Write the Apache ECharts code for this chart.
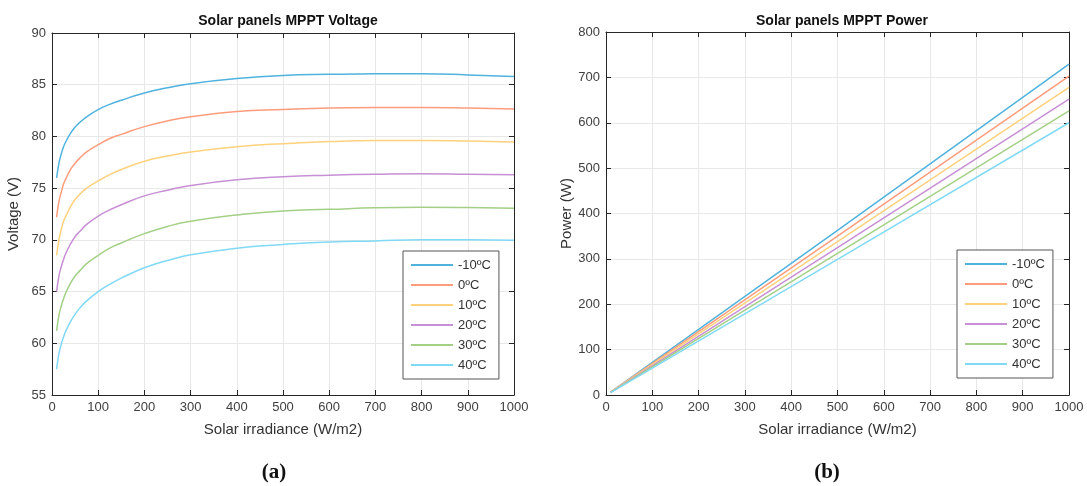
<!DOCTYPE html>
<html>
<head>
<meta charset="utf-8">
<script src="https://cdn.jsdelivr.net/npm/echarts@6/dist/echarts.min.js"></script>
<style>
  html, body { margin: 0; padding: 0; background: #fff; }
  #chart { width: 1087px; height: 486px; }
</style>
</head>
<body>
<div id="chart"></div>
<script>
// temperatures (legend names)
const temps = ["-10ºC", "0ºC", "10ºC", "20ºC", "30ºC", "40ºC"];
const colors = ["#4fb3de", "#ff9c7c", "#ffd17c", "#c78fd4", "#a3d086", "#80d9f5"];

// (a) voltage vs irradiance
const irrV = [10, 15, 20, 25, 30, 40, 50, 60, 75, 100, 125, 150, 200, 250, 300, 400, 500, 600, 700, 800, 900, 1000];
const voltM10 = [76.0, 77.4, 78.3, 79.0, 79.5, 80.3, 80.9, 81.35, 81.9, 82.6, 83.1, 83.5, 84.2, 84.7, 85.1, 85.6, 85.9, 86.0, 86.05, 86.05, 85.95, 85.8];
const volt0 = [72.2, 73.7, 74.6, 75.4, 75.9, 76.8, 77.4, 77.9, 78.5, 79.2, 79.8, 80.2, 80.95, 81.5, 81.9, 82.4, 82.6, 82.75, 82.8, 82.8, 82.75, 82.65];
const volt10 = [68.5, 70.0, 71.0, 71.8, 72.3, 73.2, 73.9, 74.4, 75.0, 75.7, 76.3, 76.8, 77.6, 78.1, 78.5, 79.0, 79.3, 79.5, 79.6, 79.6, 79.55, 79.45];
const volt20 = [65.0, 66.5, 67.4, 68.1, 68.7, 69.6, 70.3, 70.8, 71.5, 72.3, 72.9, 73.4, 74.25, 74.8, 75.25, 75.8, 76.1, 76.25, 76.35, 76.4, 76.35, 76.3];
const volt30 = [61.2, 62.7, 63.6, 64.3, 64.9, 65.8, 66.5, 67.0, 67.7, 68.5, 69.2, 69.7, 70.6, 71.3, 71.8, 72.4, 72.8, 72.95, 73.1, 73.15, 73.12, 73.05];
const volt40 = [57.5, 59.0, 59.9, 60.6, 61.2, 62.1, 62.8, 63.4, 64.1, 65.0, 65.7, 66.3, 67.3, 68.0, 68.55, 69.2, 69.55, 69.8, 69.9, 70.0, 70.0, 69.95];

// (b) power vs irradiance
const irrP = [10, 500, 1000];
const powM10 = [6.5, 363, 729];
const pow0 = [6.3, 350, 703];
const pow10 = [6.1, 338, 678];
const pow20 = [5.9, 325, 652];
const pow30 = [5.7, 312, 626];
const pow40 = [5.4, 299, 600];

const xTicks = [0, 1000, 100];
const voltRange = [55, 90, 5];
const powRange = [0, 800, 100];

const voltSets = [voltM10, volt0, volt10, volt20, volt30, volt40];
const powSets = [powM10, pow0, pow10, pow20, pow30, pow40];

let chart = echarts.init(document.getElementById("chart"));

const font = "Liberation Sans";
const axisCol = "#262626";
const gridCol = "#e8e8e8";

function pairs(xs, ys) {
  return xs.map((x, i) => [x, ys[i]]);
}

function mainX(gi) {
  return {
    type: "value", gridIndex: gi, min: xTicks[0], max: xTicks[1], interval: xTicks[2],
    name: "Solar irradiance (W/m2)", nameLocation: "middle", nameGap: 27,
    nameTextStyle: { color: "#333", fontSize: 15, fontFamily: font },
    axisLine: { show: true, onZero: false, lineStyle: { color: axisCol } },
    axisTick: { show: true, inside: true, length: 5, lineStyle: { color: axisCol } },
    axisLabel: { color: "#404040", fontSize: 13, fontFamily: font, margin: 6, formatter: v => String(v) },
    splitLine: { show: true, lineStyle: { color: gridCol } }
  };
}
function boxX(gi) {
  return {
    type: "value", gridIndex: gi, position: "top", min: xTicks[0], max: xTicks[1], interval: xTicks[2],
    axisLine: { show: true, onZero: false, lineStyle: { color: axisCol } },
    axisTick: { show: true, inside: true, length: 5, lineStyle: { color: axisCol } },
    axisLabel: { show: false }, splitLine: { show: false }
  };
}
function mainY(gi, r, name) {
  return {
    type: "value", gridIndex: gi, min: r[0], max: r[1], interval: r[2],
    name: name, nameLocation: "middle", nameGap: 31,
    nameTextStyle: { color: "#333", fontSize: 15, fontFamily: font },
    axisLine: { show: true, onZero: false, lineStyle: { color: axisCol } },
    axisTick: { show: true, inside: true, length: 5, lineStyle: { color: axisCol } },
    axisLabel: { color: "#404040", fontSize: 13, fontFamily: font, margin: 6, formatter: v => String(v) },
    splitLine: { show: true, lineStyle: { color: gridCol } }
  };
}
function boxY(gi, r) {
  return {
    type: "value", gridIndex: gi, position: "right", min: r[0], max: r[1], interval: r[2],
    axisLine: { show: true, onZero: false, lineStyle: { color: axisCol } },
    axisTick: { show: true, inside: true, length: 5, lineStyle: { color: axisCol } },
    axisLabel: { show: false }, splitLine: { show: false }
  };
}
function legend(left, top) {
  return {
    data: temps, orient: "vertical", left: left, top: top,
    icon: "rect", itemWidth: 42, itemHeight: 2, itemGap: 6,
    padding: [7, 8, 7, 8],
    borderColor: "#555", borderWidth: 1, backgroundColor: "#fff", borderRadius: 0,
    textStyle: { color: "#333", fontSize: 13, fontFamily: font, lineHeight: 14 },
    selectedMode: false
  };
}

let series = [];
temps.forEach((t, i) => {
  series.push({
    name: t, type: "line", xAxisIndex: 0, yAxisIndex: 0,
    data: pairs(irrV, voltSets[i]), smooth: 0.5,
    showSymbol: false, lineStyle: { width: 1.5, color: colors[i] }, itemStyle: { color: colors[i] }
  });
});
temps.forEach((t, i) => {
  series.push({
    name: t, type: "line", xAxisIndex: 2, yAxisIndex: 2,
    data: pairs(irrP, powSets[i]),
    showSymbol: false, lineStyle: { width: 1.5, color: colors[i] }, itemStyle: { color: colors[i] }
  });
});

let option = {
  animation: false,
  backgroundColor: "#fff",
  title: [
    { text: "Solar panels MPPT Voltage", left: 283, top: 9, textAlign: "center",
      textStyle: { fontSize: 14, fontWeight: "bold", color: "#111", fontFamily: font } },
    { text: "Solar panels MPPT Power", left: 837, top: 9, textAlign: "center",
      textStyle: { fontSize: 14, fontWeight: "bold", color: "#111", fontFamily: font } },
    { text: "({b|a})", left: 269, top: 457, textAlign: "center",
      textStyle: { fontSize: 21, color: "#111", fontFamily: "Liberation Serif",
        rich: { b: { fontSize: 21, fontWeight: "bold", color: "#111", fontFamily: "Liberation Serif" } } } },
    { text: "({b|b})", left: 822, top: 457, textAlign: "center",
      textStyle: { fontSize: 21, color: "#111", fontFamily: "Liberation Serif",
        rich: { b: { fontSize: 21, fontWeight: "bold", color: "#111", fontFamily: "Liberation Serif" } } } }
  ],
  legend: [legend(403, 251), legend(957, 250)],
  grid: [
    { left: 52, right: 573, top: 33, bottom: 91 },
    { left: 606, right: 18, top: 32, bottom: 91 }
  ],
  xAxis: [mainX(0), boxX(0), mainX(1), boxX(1)],
  yAxis: [mainY(0, voltRange, "Voltage (V)"), boxY(0, voltRange), mainY(1, powRange, "Power (W)"), boxY(1, powRange)],
  series: series
};

chart.setOption(option);
</script>
</body>
</html>
